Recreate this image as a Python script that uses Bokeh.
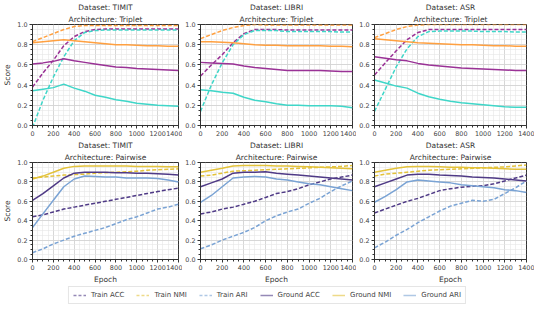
from bokeh.plotting import figure
from bokeh.models import Range1d, Title, Legend, LegendItem, FixedTicker, NumeralTickFormatter
from bokeh.layouts import column, row
from bokeh.embed import file_html
from bokeh.resources import INLINE

epochs = [0, 100, 200, 300, 400, 500, 600, 700, 800, 900, 1000, 1100, 1200, 1300, 1400]

datasets = ["TIMIT", "LIBRI", "ASR"]
architectures = ["Triplet", "Pairwise"]

# ---- Triplet ----
timit_tri_train_acc = [0.38, 0.52, 0.645, 0.79, 0.88, 0.93, 0.95, 0.955, 0.955, 0.955, 0.955, 0.955, 0.955, 0.955, 0.955]
timit_tri_train_nmi = [0.83, 0.87, 0.91, 0.95, 0.98, 0.99, 0.99, 0.99, 0.99, 0.99, 0.99, 0.99, 0.99, 0.99, 0.99]
timit_tri_train_ari = [-0.02, 0.25, 0.48, 0.68, 0.84, 0.92, 0.94, 0.945, 0.945, 0.945, 0.945, 0.945, 0.945, 0.945, 0.945]
timit_tri_ground_acc = [0.61, 0.62, 0.635, 0.66, 0.64, 0.625, 0.61, 0.595, 0.58, 0.575, 0.565, 0.56, 0.555, 0.55, 0.545]
timit_tri_ground_nmi = [0.82, 0.83, 0.84, 0.85, 0.84, 0.83, 0.82, 0.81, 0.80, 0.80, 0.795, 0.79, 0.79, 0.785, 0.785]
timit_tri_ground_ari = [0.345, 0.36, 0.375, 0.41, 0.37, 0.34, 0.30, 0.28, 0.255, 0.24, 0.22, 0.21, 0.20, 0.195, 0.19]

libri_tri_train_acc = [0.49, 0.60, 0.70, 0.82, 0.91, 0.95, 0.95, 0.95, 0.945, 0.945, 0.945, 0.945, 0.945, 0.945, 0.945]
libri_tri_train_nmi = [0.86, 0.90, 0.94, 0.97, 0.99, 1.0, 0.995, 0.995, 0.995, 0.995, 0.995, 0.995, 0.995, 0.995, 0.995]
libri_tri_train_ari = [0.14, 0.40, 0.62, 0.80, 0.90, 0.94, 0.94, 0.94, 0.93, 0.93, 0.93, 0.93, 0.93, 0.925, 0.925]
libri_tri_ground_acc = [0.625, 0.62, 0.615, 0.61, 0.59, 0.575, 0.565, 0.555, 0.545, 0.545, 0.545, 0.545, 0.54, 0.535, 0.535]
libri_tri_ground_nmi = [0.83, 0.83, 0.825, 0.82, 0.81, 0.80, 0.795, 0.795, 0.79, 0.79, 0.79, 0.79, 0.785, 0.785, 0.78]
libri_tri_ground_ari = [0.355, 0.345, 0.33, 0.32, 0.28, 0.25, 0.235, 0.215, 0.20, 0.20, 0.195, 0.195, 0.195, 0.19, 0.175]

asr_tri_train_acc = [0.50, 0.62, 0.74, 0.85, 0.92, 0.95, 0.95, 0.95, 0.95, 0.95, 0.95, 0.95, 0.95, 0.95, 0.95]
asr_tri_train_nmi = [0.87, 0.91, 0.95, 0.98, 0.995, 1.0, 1.0, 1.0, 1.0, 1.0, 1.0, 1.0, 1.0, 1.0, 1.0]
asr_tri_train_ari = [0.14, 0.36, 0.58, 0.76, 0.88, 0.93, 0.935, 0.935, 0.935, 0.935, 0.93, 0.93, 0.93, 0.925, 0.925]
asr_tri_ground_acc = [0.68, 0.665, 0.65, 0.64, 0.615, 0.60, 0.59, 0.58, 0.57, 0.565, 0.56, 0.555, 0.55, 0.545, 0.545]
asr_tri_ground_nmi = [0.86, 0.85, 0.84, 0.83, 0.82, 0.815, 0.81, 0.805, 0.80, 0.80, 0.795, 0.79, 0.79, 0.785, 0.785]
asr_tri_ground_ari = [0.45, 0.42, 0.39, 0.37, 0.32, 0.285, 0.26, 0.24, 0.225, 0.215, 0.205, 0.195, 0.185, 0.18, 0.18]

# ---- Pairwise ----
timit_pair_train_acc = [0.44, 0.46, 0.49, 0.52, 0.54, 0.56, 0.58, 0.60, 0.62, 0.64, 0.66, 0.68, 0.70, 0.72, 0.735]
timit_pair_train_nmi = [0.84, 0.85, 0.86, 0.87, 0.875, 0.88, 0.89, 0.895, 0.90, 0.905, 0.91, 0.92, 0.925, 0.93, 0.935]
timit_pair_train_ari = [0.07, 0.11, 0.16, 0.20, 0.24, 0.27, 0.30, 0.33, 0.37, 0.41, 0.44, 0.48, 0.52, 0.54, 0.57]
timit_pair_ground_acc = [0.61, 0.68, 0.76, 0.84, 0.89, 0.90, 0.90, 0.90, 0.895, 0.895, 0.89, 0.89, 0.885, 0.88, 0.87]
timit_pair_ground_nmi = [0.83, 0.86, 0.90, 0.94, 0.96, 0.965, 0.965, 0.965, 0.965, 0.965, 0.96, 0.96, 0.96, 0.955, 0.955]
timit_pair_ground_ari = [0.33, 0.47, 0.61, 0.75, 0.83, 0.86, 0.855, 0.85, 0.85, 0.84, 0.84, 0.84, 0.835, 0.82, 0.80]

libri_pair_train_acc = [0.47, 0.49, 0.52, 0.54, 0.57, 0.60, 0.64, 0.68, 0.70, 0.73, 0.77, 0.80, 0.83, 0.85, 0.87]
libri_pair_train_nmi = [0.86, 0.87, 0.89, 0.91, 0.915, 0.92, 0.925, 0.93, 0.935, 0.94, 0.945, 0.95, 0.955, 0.96, 0.97]
libri_pair_train_ari = [0.11, 0.15, 0.20, 0.24, 0.28, 0.33, 0.40, 0.45, 0.49, 0.52, 0.58, 0.63, 0.70, 0.76, 0.81]
libri_pair_ground_acc = [0.75, 0.79, 0.83, 0.89, 0.90, 0.90, 0.905, 0.89, 0.88, 0.87, 0.86, 0.85, 0.84, 0.83, 0.82]
libri_pair_ground_nmi = [0.90, 0.92, 0.94, 0.965, 0.97, 0.97, 0.97, 0.965, 0.965, 0.96, 0.955, 0.95, 0.945, 0.94, 0.935]
libri_pair_ground_ari = [0.59, 0.66, 0.75, 0.84, 0.85, 0.855, 0.85, 0.83, 0.82, 0.80, 0.78, 0.77, 0.75, 0.73, 0.71]

asr_pair_train_acc = [0.48, 0.52, 0.56, 0.60, 0.63, 0.67, 0.71, 0.73, 0.745, 0.755, 0.76, 0.78, 0.81, 0.84, 0.87]
asr_pair_train_nmi = [0.86, 0.88, 0.89, 0.90, 0.91, 0.92, 0.925, 0.93, 0.935, 0.94, 0.945, 0.95, 0.955, 0.965, 0.975]
asr_pair_train_ari = [0.12, 0.18, 0.25, 0.31, 0.38, 0.44, 0.50, 0.55, 0.58, 0.61, 0.60, 0.62, 0.68, 0.74, 0.81]
asr_pair_ground_acc = [0.75, 0.79, 0.83, 0.87, 0.88, 0.88, 0.87, 0.865, 0.86, 0.85, 0.845, 0.84, 0.83, 0.82, 0.81]
asr_pair_ground_nmi = [0.90, 0.92, 0.94, 0.955, 0.96, 0.96, 0.955, 0.95, 0.95, 0.945, 0.945, 0.94, 0.935, 0.93, 0.93]
asr_pair_ground_ari = [0.59, 0.65, 0.72, 0.80, 0.82, 0.81, 0.80, 0.79, 0.77, 0.76, 0.75, 0.74, 0.72, 0.71, 0.69]

series_names = ["Train ACC", "Train NMI", "Train ARI", "Ground ACC", "Ground NMI", "Ground ARI"]

panels = {
    ("TIMIT", "Triplet"): [timit_tri_train_acc, timit_tri_train_nmi, timit_tri_train_ari,
                           timit_tri_ground_acc, timit_tri_ground_nmi, timit_tri_ground_ari],
    ("LIBRI", "Triplet"): [libri_tri_train_acc, libri_tri_train_nmi, libri_tri_train_ari,
                           libri_tri_ground_acc, libri_tri_ground_nmi, libri_tri_ground_ari],
    ("ASR", "Triplet"): [asr_tri_train_acc, asr_tri_train_nmi, asr_tri_train_ari,
                         asr_tri_ground_acc, asr_tri_ground_nmi, asr_tri_ground_ari],
    ("TIMIT", "Pairwise"): [timit_pair_train_acc, timit_pair_train_nmi, timit_pair_train_ari,
                            timit_pair_ground_acc, timit_pair_ground_nmi, timit_pair_ground_ari],
    ("LIBRI", "Pairwise"): [libri_pair_train_acc, libri_pair_train_nmi, libri_pair_train_ari,
                            libri_pair_ground_acc, libri_pair_ground_nmi, libri_pair_ground_ari],
    ("ASR", "Pairwise"): [asr_pair_train_acc, asr_pair_train_nmi, asr_pair_train_ari,
                          asr_pair_ground_acc, asr_pair_ground_nmi, asr_pair_ground_ari],
}

arch_colors = {
    "Triplet": ["#9a3296", "#ffa040", "#3fd6c8"],
    "Pairwise": ["#4f3a86", "#e3c23a", "#7aa3d4"],
}

FONT = "DejaVu Sans"
widths = [182, 174, 178]
left_borders = [24, 16, 16]
right_borders = [4, 4, 8]
heights = {"Triplet": 138, "Pairwise": 148}


def make_panel(ci, dataset, arch):
    bottom = arch == "Pairwise"
    p = figure(width=widths[ci], height=heights[arch], title=None,
               x_range=Range1d(0, 1400), y_range=Range1d(0, 1.0),
               output_backend="svg", toolbar_location=None,
               min_border_left=left_borders[ci], min_border_right=right_borders[ci],
               min_border_top=0, min_border_bottom=0)
    p.add_layout(Title(text="Architecture: " + arch, align="center", text_font=FONT,
                       text_font_size="7.5px", text_font_style="normal", text_color="#333333",
                       standoff=2, offset=0), "above")
    p.add_layout(Title(text="Dataset: " + dataset, align="center", text_font=FONT,
                       text_font_size="7.5px", text_font_style="normal", text_color="#333333",
                       standoff=0, offset=0), "above")
    vals = panels[(dataset, arch)]
    cols = arch_colors[arch]
    for i, ys in enumerate(vals):
        dash = "4 2" if i < 3 else "solid"
        p.line(epochs, ys, line_color=cols[i % 3], line_width=1.5, line_dash=dash)

    p.xaxis.ticker = FixedTicker(ticks=list(range(0, 1401, 200)),
                                 minor_ticks=list(range(0, 1401, 50)))
    p.yaxis.ticker = FixedTicker(ticks=[0.0, 0.2, 0.4, 0.6, 0.8, 1.0],
                                 minor_ticks=[i * 0.05 for i in range(21)])
    p.yaxis.formatter = NumeralTickFormatter(format="0.0")
    for ax in (p.xaxis[0], p.yaxis[0]):
        ax.major_label_text_font = FONT
        ax.major_label_text_font_size = "6.4px"
        ax.major_label_text_color = "#444444"
        ax.major_label_standoff = 2
        ax.major_tick_out = 3
        ax.major_tick_in = 0
        ax.minor_tick_out = 2
        ax.minor_tick_in = 0
        ax.axis_line_color = "#333333"
        ax.major_tick_line_color = "#333333"
        ax.minor_tick_line_color = "#333333"
        ax.axis_label_text_font = FONT
        ax.axis_label_text_font_size = "7.5px"
        ax.axis_label_text_font_style = "normal"
        ax.axis_label_text_color = "#333333"
        ax.axis_label_standoff = 2
    if ci == 0:
        p.yaxis.axis_label = "Score"
    if bottom:
        p.xaxis.axis_label = "Epoch"
    p.outline_line_color = "#333333"
    p.outline_line_alpha = 1.0
    p.grid.grid_line_color = "#d0d0d0"
    p.grid.grid_line_width = 0.8
    p.grid.minor_grid_line_color = "#e6e6e6"
    p.grid.minor_grid_line_width = 0.6
    return p


rows = []
for arch in architectures:
    rows.append(row(*[make_panel(ci, d, arch) for ci, d in enumerate(datasets)]))

# legend strip
lg = figure(width=534, height=18, x_range=Range1d(0, 1), y_range=Range1d(0, 1),
            output_backend="svg", toolbar_location=None,
            min_border_left=0, min_border_right=0, min_border_top=0, min_border_bottom=0)
lg.axis.visible = False
lg.grid.visible = False
lg.outline_line_color = None
items = []
pc = arch_colors["Pairwise"]
for i, name in enumerate(series_names):
    r = lg.line([-5, -4], [-5, -4], line_color=pc[i % 3], line_width=1.5, line_alpha=0.6,
                line_dash=("3 2" if i < 3 else "solid"))
    items.append(LegendItem(label=name, renderers=[r]))
leg = Legend(items=items, orientation="horizontal", location="center",
             label_text_font=FONT, label_text_font_size="7px", label_text_color="#444444",
             label_height=8, label_width=10,
             glyph_width=13, glyph_height=8, spacing=12, padding=4, margin=0,
             label_standoff=5, border_line_color="#cccccc", background_fill_alpha=1.0)
lg.add_layout(leg, "center")

layout = column(rows[0], rows[1], lg)

open("out.html", "w").write(file_html(layout, INLINE))
